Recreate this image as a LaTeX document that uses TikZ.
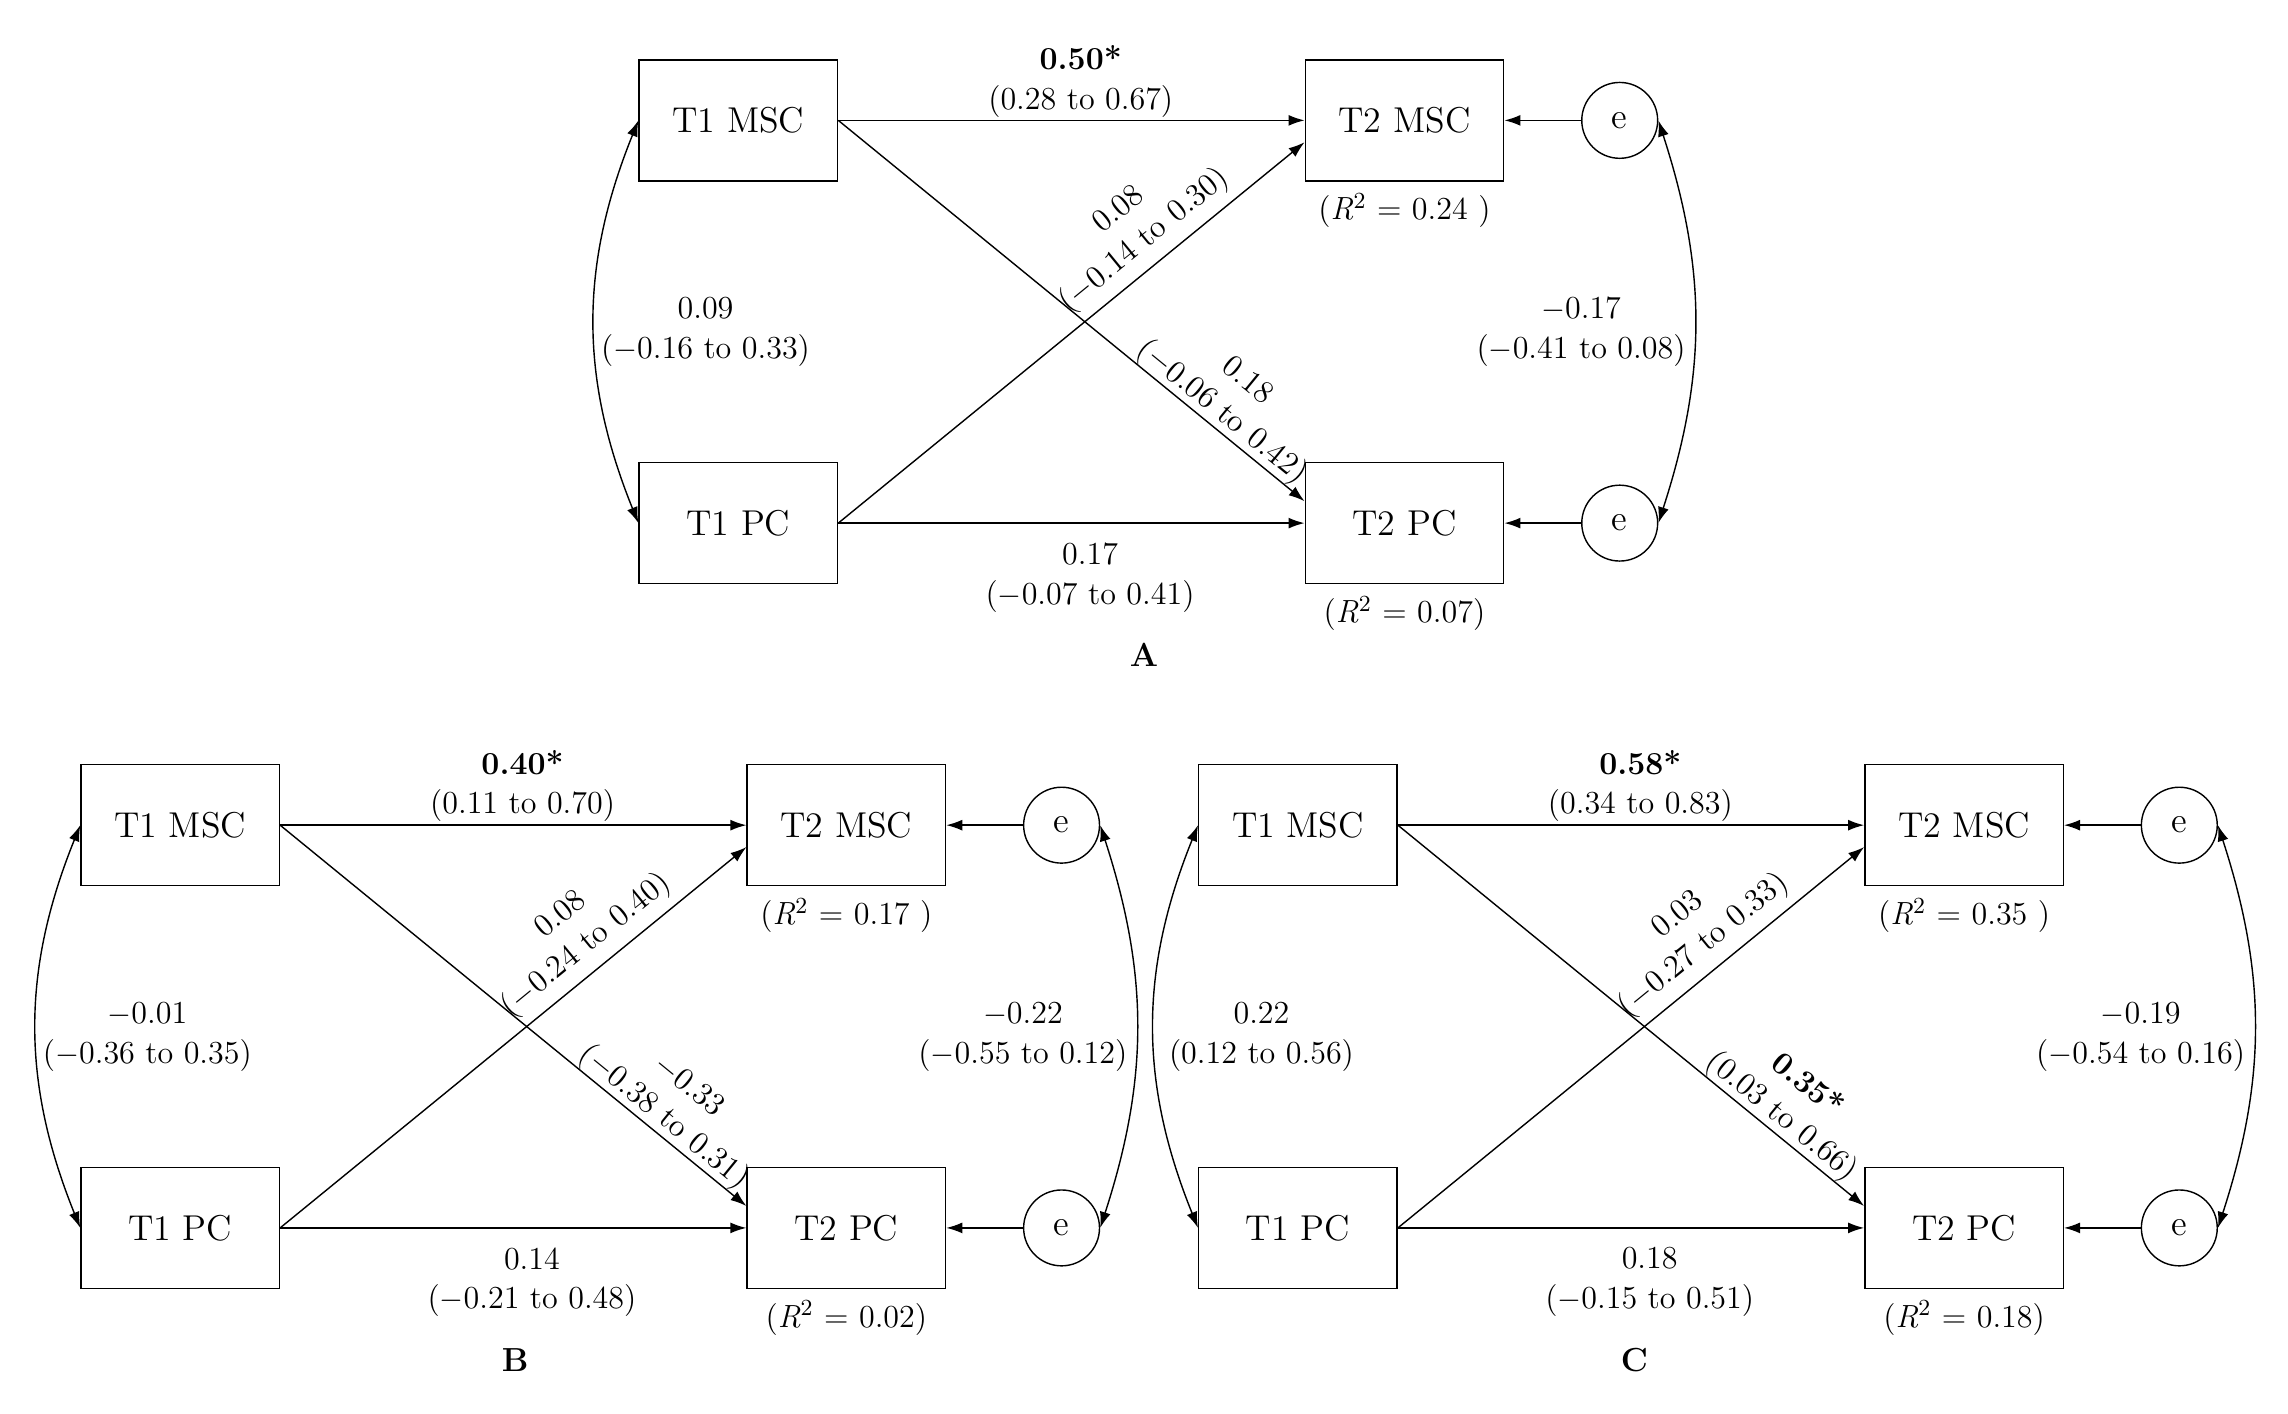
\documentclass[tikz,border=0pt]{standalone}
\usepackage{amsmath}
\usepackage{tikz}
\usetikzlibrary{arrows.meta,positioning}

\begin{document}
\begin{tikzpicture}[
    >={Latex[length=2.2mm,width=1.5mm]},
    line width=0.55pt,
    var/.style={draw, rectangle, minimum width=2.72cm, minimum height=1.66cm, font=\fontsize{14}{16}\selectfont},
    err/.style={draw, circle, minimum size=1.04cm, inner sep=0pt, font=\fontsize{14}{16}\selectfont},
    coef/.style={align=center, font=\fontsize{12.5}{15.5}\selectfont},
    rsq/.style={font=\fontsize{12.5}{15.5}\selectfont},
    panel/.style={font=\fontsize{13}{15}\selectfont\bfseries}
]
    % fix the size of the picture
    \useasboundingbox (0,0) rectangle (31.36,-19.38);

    %%%%% panel A
    \begin{scope}[shift={(10.12,-1.65)}]
    % the variables and the errors
    \node[var] (amsc1) at (0,0) {T1 MSC};
    \node[var] (amsc2) at (9.13,0) {T2 MSC};
    \node[var] (apc1) at (0,-5.52) {T1 PC};
    \node[var] (apc2) at (9.13,-5.52) {T2 PC};
    \node[err] (ae1) at (12.08,0) {e};
    \node[err] (ae2) at (12.08,-5.52) {e};

    % the paths
    \draw[->] (amsc1.east) -- node[coef, above, pos=0.52, inner sep=1pt] (ab1) {\textbf{0.50*}\\(0.28 to 0.67)} (amsc2.west);
    \draw[->] (apc1.east) -- node[coef, below=4pt, pos=0.54] (ab2) {0.17\\($-$0.07 to 0.41)} (apc2.west);
    \draw[->] (apc1.east) -- node[coef, above, sloped, pos=0.69] (ab3) {0.08\\($-$0.14 to 0.30)} ([yshift=-0.3cm]amsc2.west);
    \draw[->] (amsc1.east) -- node[coef, above, sloped, pos=0.8, inner sep=0pt] (ab4) {0.18\\($-$0.06 to 0.42)} ([yshift=0.3cm]apc2.west);
    \draw[->] (ae1) -- (amsc2);
    \draw[->] (ae2) -- (apc2);

    % the covariances
    \draw[<->] (amsc1.west) to[bend right=22] (apc1.west);
    \draw[<->] (ae1.east) to[bend left=18] (ae2.east);
    \node[coef] (acov1) at (-0.45,-2.9) {0.09\\($-$0.16 to 0.33)};
    \node[coef] (acov2) at (11.55,-2.9) {$-$0.17\\($-$0.41 to 0.08)};

    % the texts
    \node[rsq, below=1pt of amsc2] (ar1) {(\textit{R}$^2$ = 0.24 )};
    \node[rsq, below=1pt of apc2] (ar2) {(\textit{R}$^2$ = 0.07)};
    \node[panel] (aname) at (5.56,-7.33) {A};
    \end{scope}

    %%%%% panel B
    \begin{scope}[shift={(2.47,-11.31)}]
    % the variables and the errors
    \node[var] (bmsc1) at (0,0) {T1 MSC};
    \node[var] (bmsc2) at (9.13,0) {T2 MSC};
    \node[var] (bpc1) at (0,-5.52) {T1 PC};
    \node[var] (bpc2) at (9.13,-5.52) {T2 PC};
    \node[err] (be1) at (12.08,0) {e};
    \node[err] (be2) at (12.08,-5.52) {e};

    % the paths
    \draw[->] (bmsc1.east) -- node[coef, above, pos=0.52, inner sep=1pt] (bb1) {\textbf{0.40*}\\(0.11 to 0.70)} (bmsc2.west);
    \draw[->] (bpc1.east) -- node[coef, below=4pt, pos=0.54] (bb2) {0.14\\($-$0.21 to 0.48)} (bpc2.west);
    \draw[->] (bpc1.east) -- node[coef, above, sloped, pos=0.69] (bb3) {0.08\\($-$0.24 to 0.40)} ([yshift=-0.3cm]bmsc2.west);
    \draw[->] (bmsc1.east) -- node[coef, above, sloped, pos=0.8, inner sep=0pt] (bb4) {$-$0.33\\($-$0.38 to 0.31)} ([yshift=0.3cm]bpc2.west);
    \draw[->] (be1) -- (bmsc2);
    \draw[->] (be2) -- (bpc2);

    % the covariances
    \draw[<->] (bmsc1.west) to[bend right=22] (bpc1.west);
    \draw[<->] (be1.east) to[bend left=18] (be2.east);
    \node[coef] (bcov1) at (-0.45,-2.9) {$-$0.01\\($-$0.36 to 0.35)};
    \node[coef] (bcov2) at (11.55,-2.9) {$-$0.22\\($-$0.55 to 0.12)};

    % the texts
    \node[rsq, below=1pt of bmsc2] (br1) {(\textit{R}$^2$ = 0.17 )};
    \node[rsq, below=1pt of bpc2] (br2) {(\textit{R}$^2$ = 0.02)};
    \node[panel] (bname) at (4.59,-7.33) {B};
    \end{scope}

    %%%%% panel C
    \begin{scope}[shift={(17.79,-11.31)}]
    % the variables and the errors
    \node[var] (cmsc1) at (0,0) {T1 MSC};
    \node[var] (cmsc2) at (9.13,0) {T2 MSC};
    \node[var] (cpc1) at (0,-5.52) {T1 PC};
    \node[var] (cpc2) at (9.13,-5.52) {T2 PC};
    \node[err] (ce1) at (12.08,0) {e};
    \node[err] (ce2) at (12.08,-5.52) {e};

    % the paths
    \draw[->] (cmsc1.east) -- node[coef, above, pos=0.52, inner sep=1pt] (cb1) {\textbf{0.58*}\\(0.34 to 0.83)} (cmsc2.west);
    \draw[->] (cpc1.east) -- node[coef, below=4pt, pos=0.54] (cb2) {0.18\\($-$0.15 to 0.51)} (cpc2.west);
    \draw[->] (cpc1.east) -- node[coef, above, sloped, pos=0.69] (cb3) {0.03\\($-$0.27 to 0.33)} ([yshift=-0.3cm]cmsc2.west);
    \draw[->] (cmsc1.east) -- node[coef, above, sloped, pos=0.8, inner sep=0pt] (cb4) {\textbf{0.35*}\\(0.03 to 0.66)} ([yshift=0.3cm]cpc2.west);
    \draw[->] (ce1) -- (cmsc2);
    \draw[->] (ce2) -- (cpc2);

    % the covariances
    \draw[<->] (cmsc1.west) to[bend right=22] (cpc1.west);
    \draw[<->] (ce1.east) to[bend left=18] (ce2.east);
    \node[coef] (ccov1) at (-0.5,-2.9) {0.22\\(0.12 to 0.56)};
    \node[coef] (ccov2) at (11.55,-2.9) {$-$0.19\\($-$0.54 to 0.16)};

    % the texts
    \node[rsq, below=1pt of cmsc2] (cr1) {(\textit{R}$^2$ = 0.35 )};
    \node[rsq, below=1pt of cpc2] (cr2) {(\textit{R}$^2$ = 0.18)};
    \node[panel] (cname) at (4.61,-7.33) {C};
    \end{scope}
\end{tikzpicture}
\end{document}
